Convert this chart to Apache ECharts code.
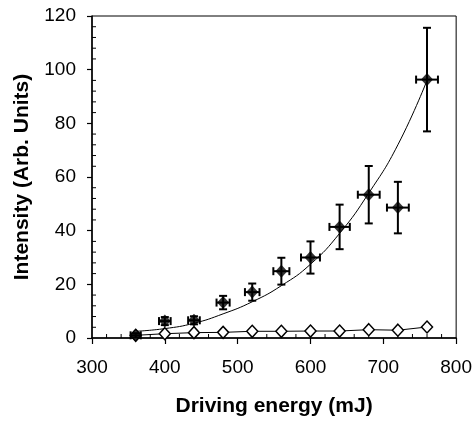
<!DOCTYPE html>
<html>
<head>
<meta charset="utf-8">
<script src="https://cdn.jsdelivr.net/npm/echarts@6/dist/echarts.min.js"></script>
<style>
  html, body { margin: 0; padding: 0; background: #fff; }
  #chart { width: 475px; height: 422px; }
</style>
</head>
<body>
<div id="chart"></div>
<script>
// 横轴：驱动能量 (mJ)
const energy = [360, 400, 440, 480, 520, 560, 600, 640, 680, 720, 760]
// 实心菱形 + 误差
const intensityFilled = [1.0, 6.3, 6.6, 13.2, 17.1, 24.9, 30.0, 41.4, 53.4, 48.6, 96.3]
const yErr = [0.8, 1.5, 1.5, 2.5, 3.2, 5.0, 6.0, 8.3, 10.7, 9.6, 19.3]
const xErr = [7, 8, 8, 9, 10, 11, 13, 14, 15, 15, 15]
// 空心菱形
const intensityOpen = [1.0, 1.6, 2.0, 2.1, 2.5, 2.5, 2.6, 2.6, 3.1, 2.9, 4.1]
// 拟合曲线
const fitEnergy = [360, 400, 440, 480, 520, 560, 600, 640, 680, 720, 760]
const fitValues = [2.5, 3.5, 5.5, 9, 13.5, 19.5, 27.5, 39, 54, 72, 96]
const xTicks = [300, 400, 500, 600, 700, 800]
const yTicks = [0, 20, 40, 60, 80, 100, 120]
// 内侧小刻度
const xMinorTicks = [320, 340, 360, 380, 420, 440, 460, 480, 520, 540, 560, 580,
  620, 640, 660, 680, 720, 740, 760, 780]
const yMinorTicks = [4, 8, 12, 16, 24, 28, 32, 36, 44, 48, 52, 56, 64, 68, 72, 76,
  84, 88, 92, 96, 104, 108, 112, 116]

const labelFont = { fontFamily: 'Liberation Sans', fontSize: 19, color: '#000' }
const titleFont = { fontFamily: 'Liberation Sans', fontSize: 21, fontWeight: 'bold', color: '#000' }

const chart = echarts.init(document.getElementById('chart'))

const errData = energy.map((x, i) => [x, intensityFilled[i], xErr[i], yErr[i]])
const minorData = xMinorTicks.map(v => [v, yTicks[0], 0])
  .concat(yMinorTicks.map(v => [xTicks[0], v, 1]))

chart.setOption({
  animation: false,
  grid: {
    left: 92, right: 18, top: 16, bottom: 84,
    show: true, borderColor: '#000', borderWidth: 1
  },
  xAxis: {
    type: 'value', min: xTicks[0], max: xTicks[xTicks.length - 1], interval: 100,
    name: 'Driving energy (mJ)', nameLocation: 'middle', nameGap: 58,
    nameTextStyle: titleFont,
    axisLine: { lineStyle: { color: '#000', width: 1.5 } },
    axisTick: { length: 6, lineStyle: { color: '#000', width: 1.2 } },
    axisLabel: { ...labelFont, margin: 20 },
    splitLine: { show: false }
  },
  yAxis: {
    type: 'value', min: yTicks[0], max: yTicks[yTicks.length - 1], interval: 20,
    name: 'Intensity (Arb. Units)', nameLocation: 'middle', nameGap: 59,
    nameTextStyle: titleFont,
    axisLine: { lineStyle: { color: '#000', width: 1.5 } },
    axisTick: { length: 5, lineStyle: { color: '#000', width: 1.2 } },
    axisLabel: { ...labelFont, margin: 16 },
    splitLine: { show: false }
  },
  series: [
    {
      name: 'minorTicks',
      type: 'custom',
      data: minorData,
      silent: true,
      renderItem: (params, api) => {
        const p = api.coord([api.value(0), api.value(1)])
        const len = 4
        const end = api.value(2) === 0 ? [p[0], p[1] - len] : [p[0] + len, p[1]]
        return {
          type: 'line',
          shape: { x1: p[0], y1: p[1], x2: end[0], y2: end[1] },
          style: { stroke: '#000', lineWidth: 1 }
        }
      },
      z: 1
    },
    {
      name: 'fit',
      type: 'line',
      smooth: true,
      showSymbol: false,
      symbol: 'none',
      data: fitEnergy.map((x, i) => [x, fitValues[i]]),
      lineStyle: { color: '#000', width: 1 },
      z: 2
    },
    {
      name: 'open',
      type: 'line',
      data: energy.map((x, i) => [x, intensityOpen[i]]),
      symbol: 'diamond',
      symbolSize: [11, 12],
      itemStyle: { color: '#fff', borderColor: '#000', borderWidth: 1.5 },
      lineStyle: { color: '#000', width: 1 },
      z: 3
    },
    {
      name: 'errors',
      type: 'custom',
      data: errData,
      renderItem: (params, api) => {
        const x = api.value(0)
        const y = api.value(1)
        const dx = api.value(2)
        const dy = api.value(3)
        const top = api.coord([x, y + dy])
        const bot = api.coord([x, y - dy])
        const lft = api.coord([x - dx, y])
        const rgt = api.coord([x + dx, y])
        const cap = 4
        const style = { stroke: '#000', lineWidth: 2, fill: null }
        const line = (x1, y1, x2, y2) => ({ type: 'line', shape: { x1, y1, x2, y2 }, style })
        return {
          type: 'group',
          children: [
            line(top[0], top[1], bot[0], bot[1]),
            line(top[0] - cap, top[1], top[0] + cap, top[1]),
            line(bot[0] - cap, bot[1], bot[0] + cap, bot[1]),
            line(lft[0], lft[1], rgt[0], rgt[1]),
            line(lft[0], lft[1] - cap, lft[0], lft[1] + cap),
            line(rgt[0], rgt[1] - cap, rgt[0], rgt[1] + cap)
          ]
        }
      },
      z: 4
    },
    {
      name: 'filled',
      type: 'scatter',
      data: energy.map((x, i) => [x, intensityFilled[i]]),
      symbol: 'diamond',
      symbolSize: [12, 13],
      itemStyle: { color: '#000' },
      z: 5
    }
  ]
})
</script>
</body>
</html>
